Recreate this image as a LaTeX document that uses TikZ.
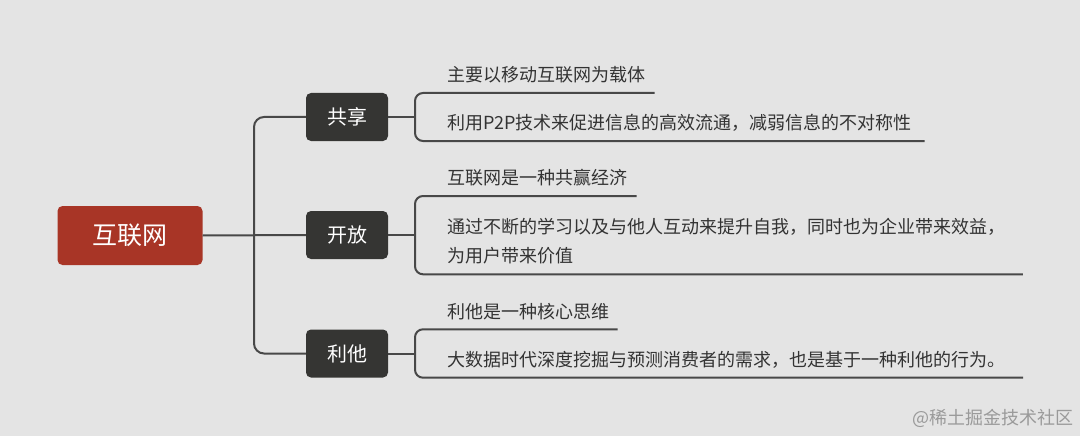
\documentclass[tikz,border=0pt]{standalone}
\usepackage{fontspec}
\newfontfamily\cjk{Noto Sans CJK SC}
\definecolor{bg}{HTML}{E4E4E4}
\definecolor{rootred}{HTML}{A83526}
\definecolor{darkbox}{HTML}{353533}
\definecolor{linec}{HTML}{484848}
\definecolor{txt}{HTML}{333333}
\definecolor{wmc}{HTML}{9A9A9A}
\begin{document}
\begin{tikzpicture}[x=1pt,y=-1pt,
 rootbox/.style={fill=rootred, rounded corners=5pt, minimum width=145pt, minimum height=59pt, text=white, font=\cjk\fontsize{25}{30}\selectfont},
 childbox/.style={fill=darkbox, rounded corners=5pt, minimum width=82pt, minimum height=48pt, text=white, font=\cjk\fontsize{20}{24}\selectfont},
 leaf/.style={anchor=west, inner sep=0pt, text=txt, align=left, font=\cjk\fontsize{18}{29}\selectfont},
 conn/.style={draw=linec, line width=2pt, rounded corners=10pt},
 brk/.style={draw=linec, line width=2pt, rounded corners=8pt}]
\fill[bg] (0,0) rectangle (1080,436);
\useasboundingbox (0,0) rectangle (1080,436);

\node[rootbox] (root) at (130,235.5) {互联网};
\node[childbox] (c1) at (347,117) {共享};
\node[childbox] (c2) at (347,235) {开放};
\node[childbox] (c3) at (347,353.5) {利他};

\coordinate (tk) at (254,235);
\draw[conn] (root.east) -- (c2.west);
\draw[conn] (c1.west) -| (tk) |- (c3.west);

% group 1
\coordinate (b1) at (415,117);
\coordinate (e1a) at (654.5,93);
\coordinate (e1b) at (924.6,141);
\draw[conn] (c1.east) -- (b1);
\draw[brk] (e1a) -| (b1) |- (e1b);
\node[leaf] (t1a) at (447,75) {主要以移动互联网为载体};
\node[leaf] (t1b) at (447,122.7) {利用P2P技术来促进信息的高效流通，减弱信息的不对称性};

% group 2
\coordinate (b2) at (415,235);
\coordinate (e2a) at (636.7,196);
\coordinate (e2b) at (1022.9,274.3);
\draw[conn] (c2.east) -- (b2);
\draw[brk] (e2a) -| (b2) |- (e2b);
\node[leaf] (t2a) at (447,178) {互联网是一种共赢经济};
\node[leaf] (t2b) at (447,241.2) {通过不断的学习以及与他人互动来提升自我，同时也为企业带来效益，\\为用户带来价值};

% group 3
\coordinate (b3) at (415,353.5);
\coordinate (e3a) at (617.5,329.3);
\coordinate (e3b) at (1023,377.7);
\draw[conn] (c3.east) -- (b3);
\draw[brk] (e3a) -| (b3) |- (e3b);
\node[leaf] (t3a) at (447,311.7) {利他是一种核心思维};
\node[leaf] (t3b) at (447,360) {大数据时代深度挖掘与预测消费者的需求，也是基于一种利他的行为。};

\node[anchor=east, inner sep=0pt, text=wmc, font=\cjk\fontsize{18}{20}\selectfont] (wm) at (1074,418) {@稀土掘金技术社区};
\end{tikzpicture}
\end{document}
